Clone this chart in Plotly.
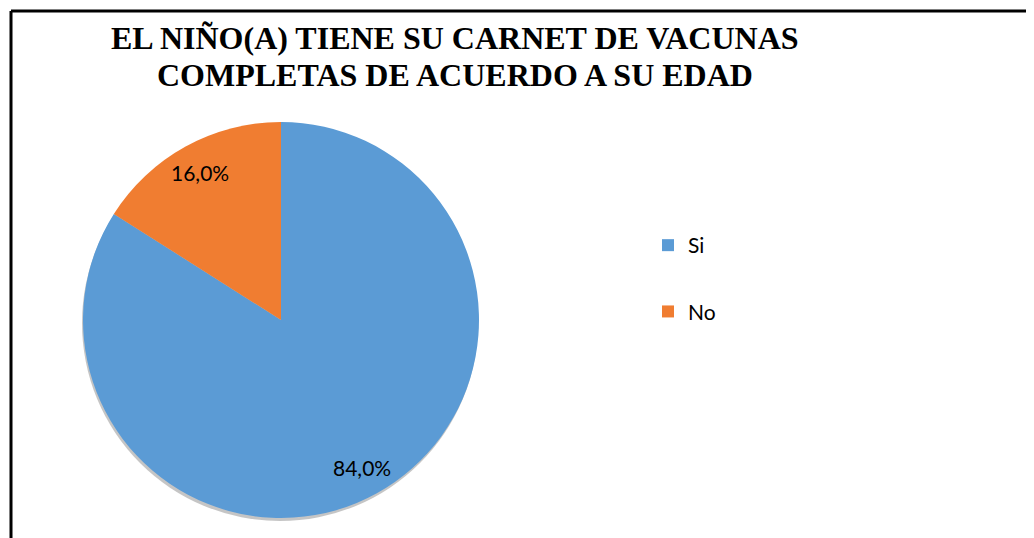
import math
import plotly.graph_objects as go

# datos del grafico
categorias = ["Si", "No"]
porcentajes = [84.0, 16.0]
colores = ["#5B9BD5", "#F07D31"]

titulo_l1 = "EL NIÑO(A) TIENE SU CARNET DE VACUNAS"
titulo_l2 = "COMPLETAS DE ACUERDO A SU EDAD"

# la pagina deja 8px de margen en el body
W, H = 1026, 530

# geometria del pastel (px dentro de la figura)
cx, cy, r = 273, 312, 198


def dominio(dx=0, dy=0):
    return dict(x=[(cx + dx - r) / W, (cx + dx + r) / W],
                y=[(H - cy - dy - r) / H, (H - cy - dy + r) / H])


fig = go.Figure()

# sombra suave debajo del pastel
fig.add_trace(go.Pie(
    labels=["sombra"], values=[sum(porcentajes)],
    marker=dict(colors=["rgba(90,90,90,0.35)"], line=dict(width=0)),
    textinfo="none", hoverinfo="skip", showlegend=False,
    domain=dominio(-1, 3),
))

fig.add_trace(go.Pie(
    labels=categorias,
    values=porcentajes,
    sort=False,
    direction="clockwise",
    rotation=0,
    marker=dict(colors=colores, line=dict(width=0)),
    textinfo="none",
    domain=dominio(),
    showlegend=False,
    hoverinfo="label+percent",
))

# etiquetas de porcentaje en el centro de cada sector
total = sum(porcentajes)
acum = 0
anots = []
for v in porcentajes:
    theta = 2 * math.pi * (acum + v / 2) / total
    acum += v
    px = cx + 0.85 * r * math.sin(theta)
    py = cy - 0.85 * r * math.cos(theta)
    anots.append(dict(
        x=px / W, y=1 - py / H, xref="paper", yref="paper",
        xanchor="center", yanchor="middle",
        text=f"{v:.1f}%".replace(".", ","), showarrow=False,
        font=dict(family="Lato", size=21, color="black"),
    ))

# titulo en dos lineas
for txt, yy in [(titulo_l1, 30), (titulo_l2, 67)]:
    anots.append(dict(
        x=447 / W, y=1 - yy / H, xref="paper", yref="paper",
        xanchor="center", yanchor="middle", text=txt, showarrow=False,
        font=dict(family="Liberation Serif", size=32, color="black", weight="bold"),
    ))

# leyenda con marcadores cuadrados
for cat, col in zip(categorias, colores):
    fig.add_trace(go.Scatter(
        x=[None], y=[None], mode="markers", name=cat,
        legendgroup=cat,
        marker=dict(symbol="square", size=12, color=col),
    ))

fig.update_layout(
    width=W, height=H,
    margin=dict(l=0, r=0, t=0, b=0),
    paper_bgcolor="white",
    plot_bgcolor="white",
    xaxis=dict(visible=False),
    yaxis=dict(visible=False),
    annotations=anots,
    legend=dict(
        x=640 / W, xanchor="left",
        y=1 - 217 / H, yanchor="top",
        font=dict(family="Lato", size=21, color="black"),
        tracegroupgap=36,
        bgcolor="rgba(0,0,0,0)",
        itemclick=False,
    ),
    shapes=[
        dict(type="line", xref="paper", yref="paper",
             x0=3 / W, x1=1, y0=1 - 3 / H, y1=1 - 3 / H,
             line=dict(color="black", width=3)),
        dict(type="line", xref="paper", yref="paper",
             x0=3 / W, x1=3 / W, y0=0, y1=1 - 3 / H,
             line=dict(color="black", width=3)),
    ],
)

fig.write_html("out.html")
